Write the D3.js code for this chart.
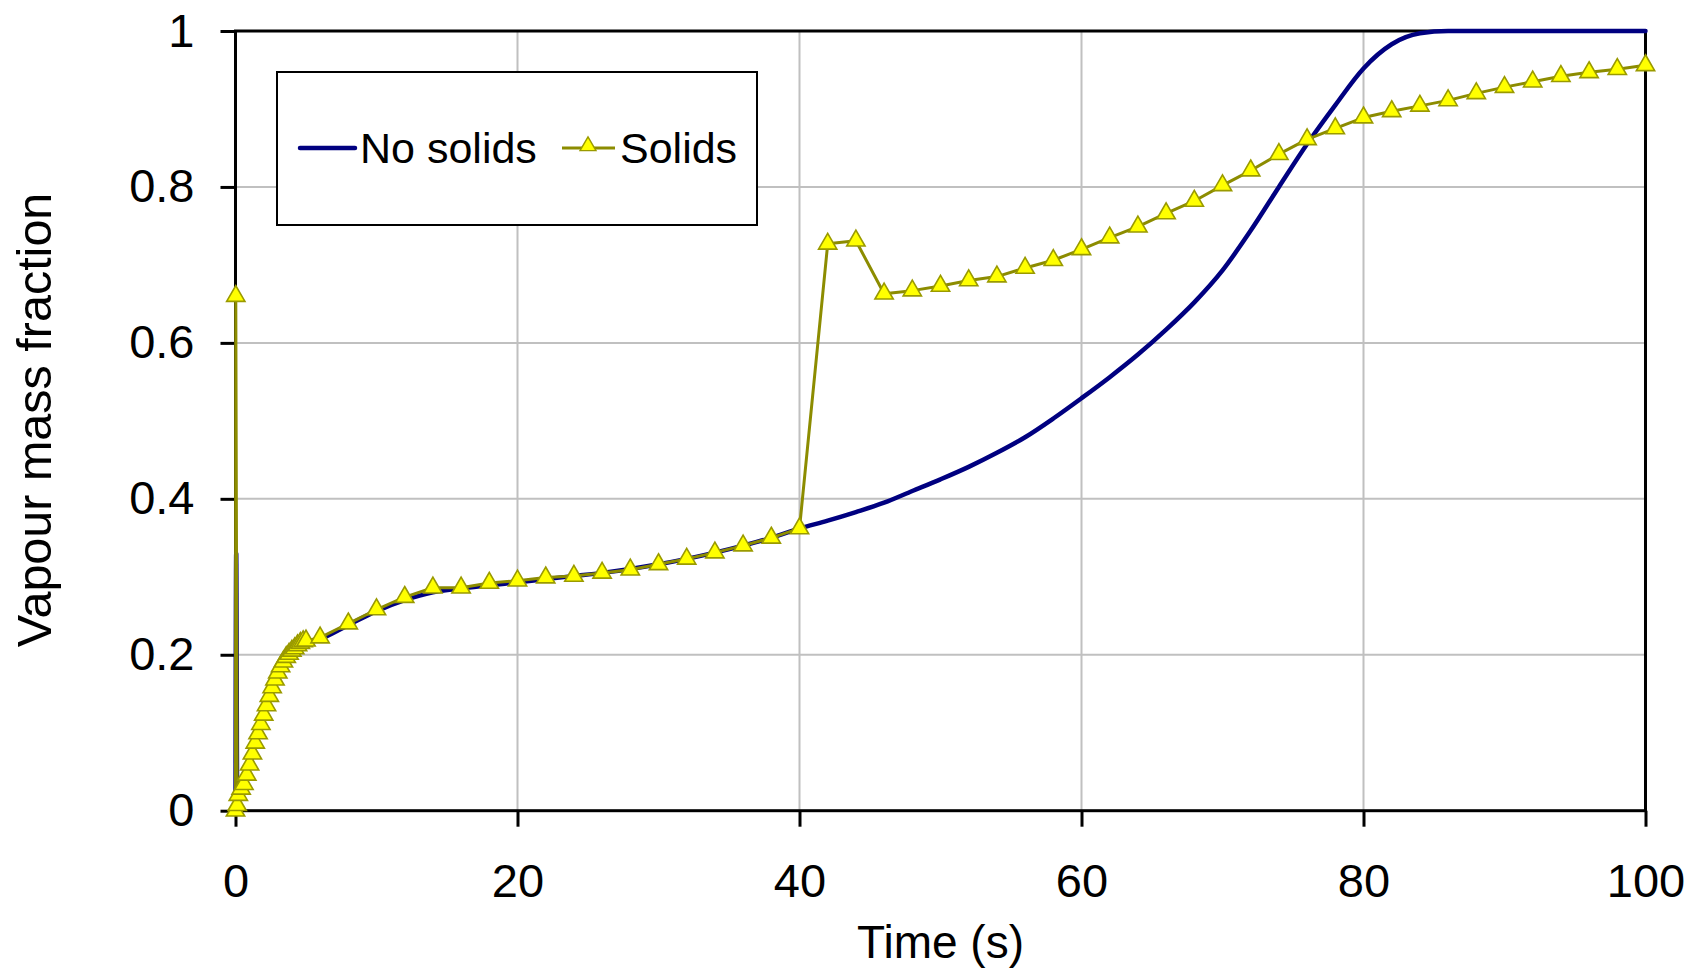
<!DOCTYPE html>
<html>
<head>
<meta charset="utf-8">
<script src="https://cdn.jsdelivr.net/npm/d3@7"></script>
<style>
  html, body { margin: 0; padding: 0; background: #ffffff; }
  svg { display: block; }
  text { font-family: "Liberation Sans", Arial, sans-serif; fill: #000; }
</style>
</head>
<body>
<svg id="chart" width="1695" height="972"></svg>
<script>
// Vapour mass fraction over time, with and without solids
const xTicks = [0, 20, 40, 60, 80, 100];
const yTicks = [0, 0.2, 0.4, 0.6, 0.8, 1];
const yTickLabels = ["0", "0.2", "0.4", "0.6", "0.8", "1"];

// No solids: time (s)
const noSolidsTime = [0, 0.05, 0.12, 0.5, 1, 1.5, 2, 2.5, 3, 3.5, 4, 5, 6, 8, 10, 12, 14, 16, 18, 20,
  22, 24, 26, 28, 30, 32, 34, 36, 38, 40, 42, 44, 46, 48, 50, 52, 54, 56, 58, 60,
  62, 64, 66, 68, 70, 72, 74, 76, 78, 80, 82, 84, 86, 90, 95, 100];
// No solids: vapour mass fraction
const noSolidsValue = [0, 0.33, 0.01, 0.028, 0.057, 0.09, 0.12, 0.15, 0.175, 0.193, 0.204, 0.214, 0.22, 0.238, 0.256, 0.27, 0.28, 0.285, 0.289, 0.293,
  0.297, 0.301, 0.305, 0.31, 0.316, 0.323, 0.331, 0.34, 0.35, 0.362, 0.372, 0.383, 0.395, 0.41, 0.425, 0.441, 0.459, 0.479, 0.503, 0.529,
  0.556, 0.585, 0.617, 0.652, 0.693, 0.744, 0.8, 0.855, 0.905, 0.952, 0.983, 0.997, 1, 1, 1, 1];

// Solids: time (s)
const solidsTime = [0, 0.02, 0.12, 0.2, 0.4, 0.6, 0.8, 1.0, 1.2, 1.4, 1.6, 1.8, 2.0, 2.2, 2.4, 2.6, 2.8, 3.0, 3.2, 3.4,
  3.6, 3.8, 4.0, 4.2, 4.4, 4.6, 4.8, 5.0, 6, 8, 10, 12, 14, 16, 18, 20, 22, 24, 26, 28, 30, 32, 34, 36, 38, 40,
  42, 44, 46, 48, 50, 52, 54, 56, 58, 60, 62, 64, 66, 68, 70, 72, 74, 76, 78, 80,
  82, 84, 86, 88, 90, 92, 94, 96, 98, 100];
// Solids: vapour mass fraction
const solidsValue = [0, 0.66, 0.007, 0.02, 0.028, 0.034, 0.046, 0.059, 0.073, 0.087, 0.099, 0.111, 0.123, 0.135, 0.147, 0.158, 0.168, 0.177, 0.185, 0.191,
  0.197, 0.201, 0.205, 0.208, 0.212, 0.215, 0.217, 0.218, 0.222, 0.24, 0.258, 0.274, 0.286, 0.286, 0.292, 0.295, 0.299, 0.301, 0.305, 0.309, 0.316, 0.323, 0.331, 0.34, 0.35, 0.362,
  0.727, 0.731, 0.663, 0.667, 0.673, 0.68, 0.685, 0.696, 0.706, 0.72, 0.735, 0.749, 0.766, 0.782, 0.802, 0.821, 0.842, 0.861, 0.875, 0.889,
  0.897, 0.904, 0.911, 0.92, 0.928, 0.935, 0.942, 0.947, 0.951, 0.956];

const seriesNames = ["No solids", "Solids"];

const noSolids = noSolidsTime.map((t, i) => ({ t, v: noSolidsValue[i] }));
const solids = solidsTime.map((t, i) => ({ t, v: solidsValue[i] }));

const svg = d3.select("#chart");
const plot = { left: 235.5, right: 1645.5, top: 31, bottom: 810.7 };

const x = d3.scaleLinear().domain([0, 100]).range([plot.left, plot.right]);
const y = d3.scaleLinear().domain([0, 1]).range([plot.bottom, plot.top]);

// Grid lines
const grid = svg.append("g").attr("stroke", "#c0c0c0").attr("stroke-width", 2);
grid.selectAll("line.v").data(xTicks.slice(1, -1)).join("line")
  .attr("x1", d => x(d)).attr("x2", d => x(d))
  .attr("y1", plot.top).attr("y2", plot.bottom);
grid.selectAll("line.h").data(yTicks.slice(1, -1)).join("line")
  .attr("x1", plot.left).attr("x2", plot.right)
  .attr("y1", d => y(d)).attr("y2", d => y(d));

// Axes
const xAxis = d3.axisBottom(x).tickValues(xTicks).tickSize(16).tickSizeOuter(0).tickPadding(37)
  .tickFormat(d3.format("d"));
const yAxis = d3.axisLeft(y).tickValues(yTicks).tickSize(15).tickSizeOuter(0).tickPadding(26)
  .tickFormat((d, i) => yTickLabels[i]);

const gx = svg.append("g").attr("transform", `translate(0,${plot.bottom})`).call(xAxis);
const gy = svg.append("g").attr("transform", `translate(${plot.left},0)`).call(yAxis);
[gx, gy].forEach(g => {
  g.select(".domain").remove();
  g.selectAll(".tick line").attr("stroke", "#000").attr("stroke-width", 3);
  g.selectAll(".tick text").attr("font-size", 47).attr("fill", "#000")
    .style("font-family", '"Liberation Sans", Arial, sans-serif');
});

// Plot frame
svg.append("rect")
  .attr("x", plot.left).attr("y", plot.top)
  .attr("width", plot.right - plot.left).attr("height", plot.bottom - plot.top)
  .attr("fill", "none").attr("stroke", "#000").attr("stroke-width", 3);

// Series
const smoothLine = d3.line().curve(d3.curveMonotoneX).x(d => x(d.t)).y(d => y(d.v));
const line = d3.line().x(d => x(d.t)).y(d => y(d.v));

svg.append("path").datum(noSolids)
  .attr("d", smoothLine)
  .attr("fill", "none").attr("stroke", "#000080").attr("stroke-width", 4.5)
  .attr("stroke-linejoin", "round").attr("stroke-linecap", "round");

svg.append("path").datum(solids)
  .attr("d", line)
  .attr("fill", "none").attr("stroke", "#8c8c00").attr("stroke-width", 3)
  .attr("stroke-linejoin", "round");

const tri = d3.symbol().type(d3.symbolTriangle).size(145);
svg.append("g").selectAll("path").data(solids).join("path")
  .attr("transform", d => `translate(${x(d.t)},${y(d.v)})`)
  .attr("d", tri)
  .attr("fill", "#ffff00").attr("stroke", "#9a9a00").attr("stroke-width", 1.6);

// Axis titles
svg.append("text")
  .attr("x", (plot.left + plot.right) / 2).attr("y", 958)
  .attr("text-anchor", "middle").attr("font-size", 46)
  .text("Time (s)");
svg.append("text")
  .attr("transform", `translate(51,420) rotate(-90)`)
  .attr("text-anchor", "middle").attr("font-size", 48.5)
  .text("Vapour mass fraction");

// Legend
const legend = svg.append("g");
legend.append("rect")
  .attr("x", 277).attr("y", 72).attr("width", 480).attr("height", 153)
  .attr("fill", "#fff").attr("stroke", "#000").attr("stroke-width", 2);
legend.append("line")
  .attr("x1", 300).attr("x2", 355).attr("y1", 148).attr("y2", 148)
  .attr("stroke", "#000080").attr("stroke-width", 4.5).attr("stroke-linecap", "round");
legend.append("text").attr("x", 360).attr("y", 163).attr("font-size", 43).text(seriesNames[0]);
legend.append("line")
  .attr("x1", 562).attr("x2", 615).attr("y1", 148).attr("y2", 148)
  .attr("stroke", "#8c8c00").attr("stroke-width", 3);
legend.append("path")
  .attr("transform", "translate(588,146)")
  .attr("d", d3.symbol().type(d3.symbolTriangle).size(110))
  .attr("fill", "#ffff00").attr("stroke", "#9a9a00").attr("stroke-width", 1.4);
legend.append("text").attr("x", 620).attr("y", 163).attr("font-size", 43).text(seriesNames[1]);
</script>
</body>
</html>
